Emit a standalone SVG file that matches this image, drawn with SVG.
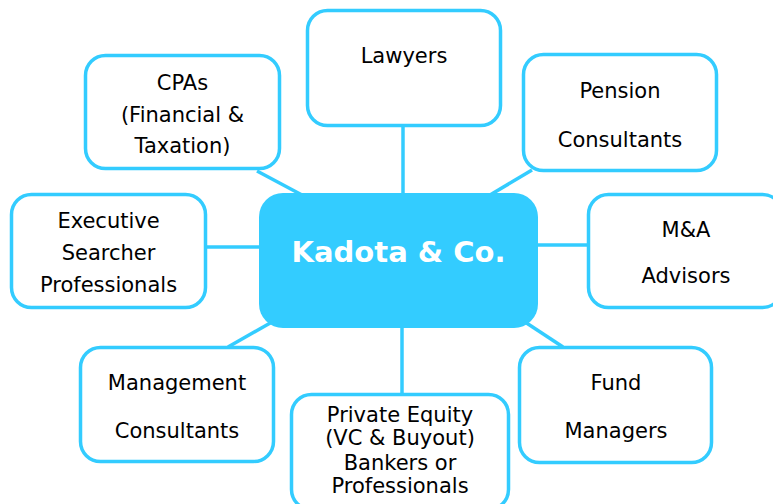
<svg xmlns="http://www.w3.org/2000/svg" width="773" height="504" viewBox="0 0 773 504">
<style>
.box{fill:#ffffff;stroke:#33CCFF;stroke-width:3.5}
.conn{stroke:#33CCFF;stroke-width:3.5;fill:none}
.t{font-family:"DejaVu Sans",Verdana,sans-serif;font-size:21px;fill:#000000;text-anchor:middle}
.c{font-family:"DejaVu Sans",Verdana,sans-serif;font-size:29px;font-weight:bold;fill:#ffffff;text-anchor:middle}
</style>
<rect width="773" height="504" fill="#ffffff"/>
<g id="connectors">
<line class="conn" x1="257" y1="171" x2="302" y2="195"/>
<line class="conn" x1="207" y1="247" x2="262" y2="247"/>
<line class="conn" x1="403" y1="126" x2="403" y2="195"/>
<line class="conn" x1="532" y1="170" x2="490" y2="195"/>
<line class="conn" x1="536" y1="245" x2="588" y2="245"/>
<line class="conn" x1="228" y1="347" x2="272" y2="322"/>
<line class="conn" x1="563" y1="347" x2="525" y2="322"/>
<line class="conn" x1="402" y1="326" x2="402" y2="394"/>
</g>
<g id="center">
<rect x="259" y="193" width="279" height="135" rx="24" fill="#33CCFF"/>
<text class="c" x="398.5" y="262">Kadota &amp; Co.</text>
</g>
<g id="cpas">
<rect class="box" x="85.5" y="55.5" width="194" height="113" rx="20"/>
<text class="t" x="182.5" y="90">CPAs</text>
<text class="t" x="182.5" y="122">(Financial &amp;</text>
<text class="t" x="182.5" y="153">Taxation)</text>
</g>
<g id="lawyers">
<rect class="box" x="307.5" y="10.5" width="193" height="115" rx="20"/>
<text class="t" x="404" y="63">Lawyers</text>
</g>
<g id="pension">
<rect class="box" x="523.5" y="54.5" width="193" height="116" rx="20"/>
<text class="t" x="620" y="98">Pension</text>
<text class="t" x="620" y="147">Consultants</text>
</g>
<g id="executive">
<rect class="box" x="11.5" y="194.5" width="194" height="113" rx="20"/>
<text class="t" x="108.5" y="228">Executive</text>
<text class="t" x="108.5" y="260">Searcher</text>
<text class="t" x="108.5" y="292">Professionals</text>
</g>
<g id="ma">
<rect class="box" x="588.5" y="194.5" width="194" height="113" rx="20"/>
<text class="t" x="686" y="237">M&amp;A</text>
<text class="t" x="686" y="283">Advisors</text>
</g>
<g id="management">
<rect class="box" x="80.5" y="347.5" width="193" height="114" rx="20"/>
<text class="t" x="177" y="390">Management</text>
<text class="t" x="177" y="438">Consultants</text>
</g>
<g id="fund">
<rect class="box" x="519.5" y="347.5" width="192" height="115" rx="20"/>
<text class="t" x="616" y="390">Fund</text>
<text class="t" x="616" y="438">Managers</text>
</g>
<g id="privateequity">
<rect class="box" x="291.5" y="394.5" width="217" height="115" rx="20"/>
<text class="t" x="400" y="422">Private Equity</text>
<text class="t" x="400" y="445">(VC &amp; Buyout)</text>
<text class="t" x="400" y="470">Bankers or</text>
<text class="t" x="400" y="493">Professionals</text>
</g>
</svg>
